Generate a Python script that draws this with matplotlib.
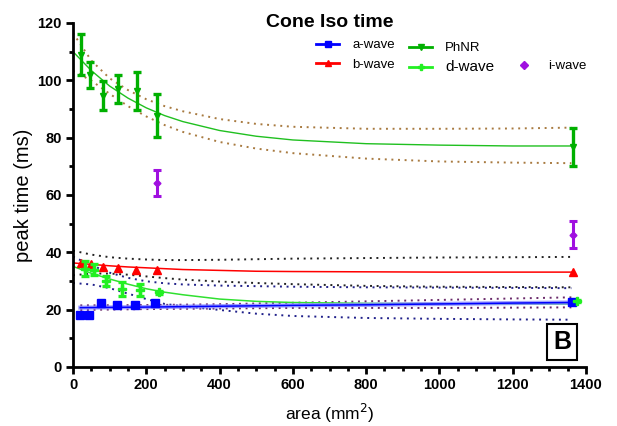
import matplotlib
matplotlib.use('Agg')
import matplotlib.pyplot as plt
from matplotlib.lines import Line2D
from matplotlib.ticker import MultipleLocator

plt.rcParams['font.family'] = ['Liberation Sans', 'DejaVu Sans']

# measured points (area mm^2, peak time ms)
a_x = [20, 45, 76, 120, 168, 223, 1361]
a_y = [18.2, 18.2, 22.5, 21.6, 21.6, 22.2, 22.7]
a_err = [1.0, 0.3, 0.4, 0.3, 0.3, 0.4, 0.4]

b_x = [23, 49, 82, 124, 173, 228, 1365]
b_y = [36.3, 36.0, 34.9, 34.4, 33.9, 33.9, 33.3]

phnr_x = [23, 47, 81, 124, 174, 229, 1365]
phnr_y = [109, 102, 94.7, 97, 96.3, 87.7, 76.6]
phnr_err = [7, 4.5, 5, 5, 6.5, 7.5, 6.6]

d_x = [32, 56, 89, 133, 182, 235, 1376]
d_y = [34.3, 34.0, 29.9, 27.2, 26.8, 26.0, 23.1]
d_err = [2.7, 1.8, 1.7, 2.3, 2.2, 0.6, 0.4]

i_x = [229, 1365]
i_y = [64.2, 46.1]
i_err = [4.5, 4.7]

# fitted curves and confidence bands
fit_x = [0, 50, 100, 150, 200, 250, 300, 400, 500, 600, 800, 1000, 1200, 1360]
phnr_fit = [110, 103.4, 98.0, 93.8, 90.4, 87.7, 85.6, 82.5, 80.5, 79.2, 77.9, 77.4, 77.1, 77.1]
phnr_hi = [116.5, 106.9, 100.7, 96.6, 93.4, 91.0, 89.2, 86.5, 84.8, 83.8, 83.1, 83.1, 83.2, 83.5]
phnr_lo = [103.3, 99.9, 95.3, 91.0, 87.4, 84.4, 82.0, 78.5, 76.2, 74.6, 72.7, 71.7, 71.3, 71.1]

b_fit = [36.3, 35.8, 35.3, 34.9, 34.6, 34.3, 34.0, 33.7, 33.4, 33.3, 33.2, 33.1, 33.1, 33.1]
b_hi = [40.6, 39.2, 38.3, 37.8, 37.5, 37.3, 37.3, 37.4, 37.6, 37.8, 38.0, 38.2, 38.3, 38.4]
b_lo = [32.0, 32.6, 32.6, 32.2, 31.6, 31.0, 30.5, 29.8, 29.3, 28.9, 28.3, 28.0, 27.9, 27.8]

d_fit = [35.1, 32.7, 30.7, 28.9, 27.3, 26.1, 25.2, 23.7, 22.9, 22.5, 22.2, 22.1, 22.0, 22.0]
d_hi = [38.5, 35.5, 32.9, 31.1, 29.9, 29.2, 28.8, 28.4, 28.2, 28.0, 27.8, 27.7, 27.6, 27.5]
d_lo = [29.3, 28.8, 27.5, 25.6, 23.7, 22.0, 21.2, 19.9, 18.6, 17.8, 17.1, 16.8, 16.6, 16.5]

a_fit_x = [20, 200, 400, 600, 800, 1000, 1200, 1360]
a_fit = [20.7, 20.9, 21.2, 21.5, 21.7, 22.0, 22.3, 22.5]
a_hi = [21.5, 21.6, 21.9, 22.4, 22.9, 23.4, 23.9, 24.3]
a_lo = [19.9, 20.2, 20.4, 20.6, 20.6, 20.6, 20.7, 20.8]

BLUE = '#0000ff'
RED = '#ff0000'
PHNR = '#00b000'
DWAVE = '#22f022'
IWAVE = '#a010e0'
dots = (0, (1, 2.4))

fig = plt.figure(figsize=(6.17, 4.26), dpi=100)
ax = fig.add_axes([73/617, 1-367/426, (586-73)/617, (367-23)/426])

# bands
ax.plot(fit_x, phnr_hi, color='#a87a40', lw=1.4, ls=dots)
ax.plot(fit_x, phnr_lo, color='#a87a40', lw=1.4, ls=dots)
ax.plot(fit_x, b_hi, color='#222222', lw=1.4, ls=dots)
ax.plot(fit_x, b_lo, color='#222222', lw=1.4, ls=dots)
ax.plot(fit_x, d_hi, color='#20208a', lw=1.4, ls=dots)
ax.plot(fit_x, d_lo, color='#20208a', lw=1.4, ls=dots)
ax.plot(a_fit_x, a_hi, color='#6a2a6a', lw=1.4, ls=dots)
ax.plot(a_fit_x, a_lo, color='#6a2a6a', lw=1.4, ls=dots)

# fits
ax.plot(fit_x, phnr_fit, color='#20c020', lw=1.0)
ax.plot(fit_x, b_fit, color=RED, lw=1.1)
ax.plot(fit_x, d_fit, color='#30e030', lw=1.1)
ax.plot(a_fit_x, a_fit, color='#8888ff', lw=3, alpha=0.8)
ax.plot(a_fit_x, a_fit, color=BLUE, lw=1.1)

# data
ax.errorbar(a_x, a_y, yerr=a_err, fmt='s', color=BLUE, ms=5.5, elinewidth=2, capsize=0)
ax.plot(b_x, b_y, '^', color=RED, ms=5.5, ls='none')
ax.errorbar(phnr_x, phnr_y, yerr=phnr_err, fmt='v', color=PHNR, ms=5,
            elinewidth=2.4, capsize=3, capthick=2.4)
ax.errorbar(d_x, d_y, yerr=d_err, fmt='P', color=DWAVE, ms=5.5,
            elinewidth=2.4, capsize=3, capthick=2.4)
ax.errorbar(i_x, i_y, yerr=i_err, fmt='D', color=IWAVE, ms=3.5,
            elinewidth=2.2, capsize=2.8, capthick=2.2)

ax.set_xlim(0, 1400)
ax.set_ylim(0, 120)
ax.xaxis.set_major_locator(MultipleLocator(200))
ax.xaxis.set_minor_locator(MultipleLocator(50))
ax.yaxis.set_major_locator(MultipleLocator(20))
ax.yaxis.set_minor_locator(MultipleLocator(10))
for s in ['top', 'right']:
    ax.spines[s].set_visible(False)
for s in ['left', 'bottom']:
    ax.spines[s].set_linewidth(2)
ax.tick_params(which='major', length=5, width=2, pad=3, labelsize=10.5)
ax.tick_params(which='minor', length=2.8, width=2)
for lab in ax.get_xticklabels() + ax.get_yticklabels():
    lab.set_fontweight('bold')

ax.set_xlabel('area (mm$^2$)', fontsize=12.5, labelpad=7)
ax.set_ylabel('peak time (ms)', fontsize=14.5, labelpad=3)
fig.text(330/617, 1-27/426, 'Cone Iso time', ha='center', va='baseline',
         fontsize=14, fontweight='bold')

ax.text(0.953, 0.073, 'B', transform=ax.transAxes, ha='center', va='center',
        fontsize=18, fontweight='bold',
        bbox=dict(boxstyle='square,pad=0.25', fc='white', ec='black', lw=1.5))

# legends
h_a = Line2D([], [], color=BLUE, marker='s', ms=5, lw=2)
h_b = Line2D([], [], color=RED, marker='^', ms=5, lw=2)
h_p = Line2D([], [], color=PHNR, marker='v', ms=5, lw=2)
h_d = Line2D([], [], color=DWAVE, marker='P', ms=5, lw=2)
h_i = Line2D([], [], color=IWAVE, marker='D', ms=4, ls='none')

common = dict(frameon=False, borderpad=0, handlelength=1.75, handletextpad=1.0,
              loc='upper left', bbox_transform=fig.transFigure, borderaxespad=0)
leg1 = ax.legend([h_a, h_b], ['a-wave', 'b-wave'], fontsize=9.5, labelspacing=0.55,
                 bbox_to_anchor=(316/617, 1-39/426), **common)
ax.add_artist(leg1)
leg2 = ax.legend([h_p, h_d], ['PhNR', 'd-wave'], fontsize=9.5, labelspacing=0.45,
                 bbox_to_anchor=(409/617, 1-42/426), **common)
leg2.get_texts()[1].set_fontsize(11)
ax.add_artist(leg2)
ax.legend([h_i], ['i-wave'], fontsize=9.5, bbox_to_anchor=(512/617, 1-60/426), **common)

fig.savefig('out.png', dpi=100)
